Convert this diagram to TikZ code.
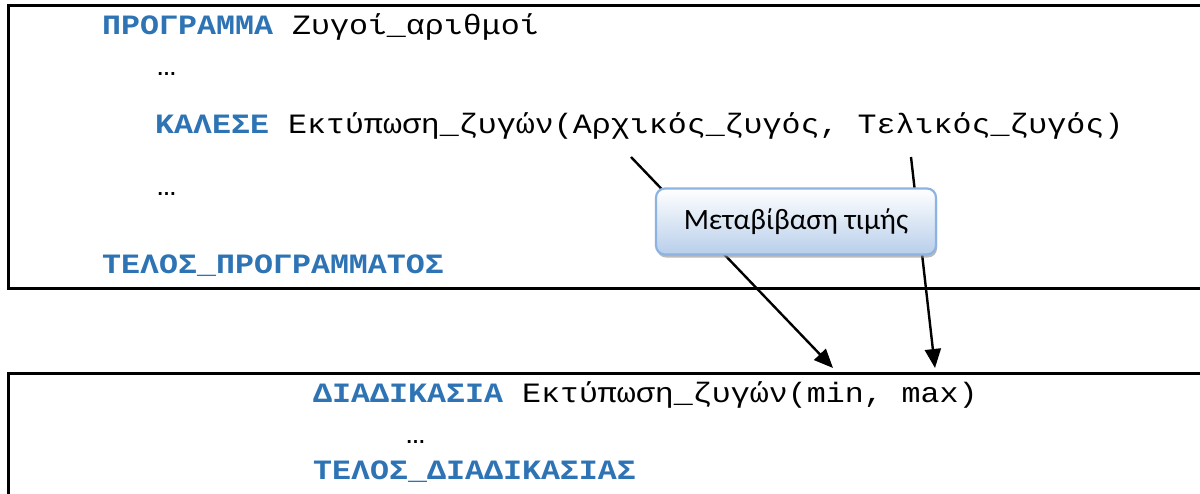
\documentclass[tikz,border=0pt]{standalone}
\usepackage{fontspec}
\setmainfont{Liberation Serif}
\newfontfamily\codefont[FakeStretch=1.13]{Liberation Mono}
\newfontfamily\labelfont{Carlito}
\usetikzlibrary{arrows.meta,shadows}
\definecolor{kwblue}{RGB}{46,116,181}
\definecolor{calloutborder}{RGB}{141,179,226}
\definecolor{calloutbottom}{RGB}{184,206,234}
\newcommand{\kw}[1]{\textcolor{kwblue}{\bfseries #1}}
\begin{document}
\begin{tikzpicture}[x=1pt,y=-1pt,
  codeline/.style={anchor=base west, inner sep=0pt, font=\codefont\fontsize{28}{34}\selectfont},
  boxline/.style={draw=black, line width=3pt},
  passarrow/.style={draw=black, line width=2.4pt, -{Triangle[length=19pt,width=16pt]}},
  callout/.style={draw=calloutborder, line width=2.2pt, rounded corners=9pt,
    top color=white, bottom color=calloutbottom,
    minimum width=280pt, minimum height=66pt, inner sep=0pt,
    font=\labelfont\fontsize{29.5}{34}\selectfont,
    drop shadow={shadow xshift=1pt, shadow yshift=-3pt, fill=black!45, opacity=0.6}}]
\useasboundingbox (0,0) rectangle (1200,493);
\clip (0,0) rectangle (1200,493);
% boxes
\draw[boxline] (8,5) rectangle (1215,288);
\draw[boxline] (8,373) rectangle (1215,510);
% main program text
\node[codeline] (p1) at (102,34) {\kw{ΠΡΟΓΡΑΜΜΑ} Ζυγοί\_αριθμοί};
\node[codeline] (p2) at (157,75) {…};
\node[codeline] (p3) at (155,133) {\kw{ΚΑΛΕΣΕ} Εκτύπωση\_ζυγών(Αρχικός\_ζυγός, Τελικός\_ζυγός)};
\node[codeline] (p4) at (157,195) {…};
\node[codeline] (p5) at (102,273) {\kw{ΤΕΛΟΣ\_ΠΡΟΓΡΑΜΜΑΤΟΣ}};
% procedure text
\node[codeline] (d1) at (313,402) {\kw{ΔΙΑΔΙΚΑΣΙΑ} Εκτύπωση\_ζυγών(min, max)};
\node[codeline] (d2) at (406,443) {…};
\node[codeline] (d3) at (313,479) {\kw{ΤΕΛΟΣ\_ΔΙΑΔΙΚΑΣΙΑΣ}};
% connectors
\coordinate (s1) at (631,157);
\coordinate (t1) at (833,368);
\coordinate (s2) at (911,157);
\coordinate (t2) at (935,368);
\draw[passarrow] (s1) -- (t1);
\draw[passarrow] (s2) -- (t2);
% callout
\node[callout] (lbl) at (796,221.5) {Μεταβίβαση τιμής};
\end{tikzpicture}
\end{document}
